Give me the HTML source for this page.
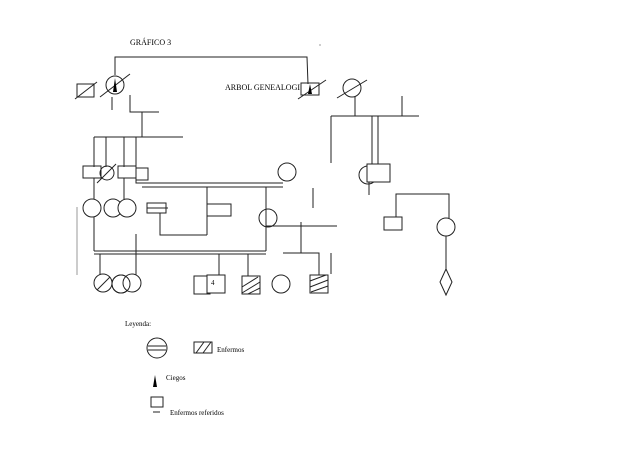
<!DOCTYPE html>
<html><head><style>
html,body{margin:0;padding:0;background:#fff;}
svg{display:block;}
text{font-family:"Liberation Serif",serif;fill:#000;}
</style></head><body>
<svg width="627" height="470" viewBox="0 0 627 470" xmlns="http://www.w3.org/2000/svg">
<g fill="none" stroke="#222" stroke-width="1">
<!-- top connection -->
<polyline points="115,75 115,57 307,57 308,84"/>
<!-- left couple -->
<rect x="77" y="84" width="17" height="13"/>
<line x1="75" y1="99" x2="97" y2="82"/>
<circle cx="115" cy="85" r="9" fill="#fff"/>
<line x1="100" y1="97" x2="130" y2="74"/>
<line x1="112" y1="97" x2="112" y2="110"/>
<polyline points="130,95 130,112 159,112"/>
<line x1="142" y1="112" x2="142" y2="137"/>
<line x1="94" y1="137" x2="183" y2="137"/>
<line x1="94" y1="137" x2="94" y2="167"/>
<line x1="106" y1="137" x2="106" y2="167"/>
<line x1="124" y1="137" x2="124" y2="167"/>
<line x1="136" y1="137" x2="136" y2="168"/>
<rect x="83" y="166" width="18" height="12"/>
<circle cx="107" cy="173" r="7"/>
<line x1="97" y1="183" x2="116" y2="164"/>
<rect x="118" y="166" width="18" height="12"/>
<rect x="136" y="168" width="12" height="12"/>
<polyline points="136,180 136,183 283,183"/>
<line x1="142" y1="187" x2="283" y2="187"/>
<circle cx="287" cy="172" r="9"/>
<line x1="94" y1="178" x2="94" y2="199"/>
<line x1="124" y1="178" x2="124" y2="199"/>
<circle cx="92" cy="208" r="9"/>
<circle cx="113" cy="208" r="9"/>
<circle cx="127" cy="208" r="9" fill="#fff"/>
<line x1="77" y1="207" x2="77" y2="275" stroke="#999"/>
<line x1="207" y1="187" x2="207" y2="235"/>
<polyline points="160,213 160,235 207,235"/>
<rect x="147" y="203" width="19" height="10"/>
<line x1="147" y1="208" x2="168" y2="208"/>
<rect x="207" y="204" width="24" height="12"/>
<line x1="266" y1="187" x2="266" y2="251"/>
<circle cx="268" cy="218" r="9"/>
<line x1="266" y1="226" x2="337" y2="226"/>
<line x1="313" y1="188" x2="313" y2="208"/>
<line x1="94" y1="217" x2="94" y2="251"/>
<line x1="136" y1="234" x2="136" y2="275"/>
<line x1="94" y1="251" x2="266" y2="251"/>
<line x1="94" y1="254" x2="266" y2="254"/>
<line x1="100" y1="254" x2="100" y2="275"/>
<line x1="219" y1="254" x2="219" y2="276"/>
<line x1="248" y1="254" x2="248" y2="276"/>
<line x1="301" y1="222" x2="301" y2="253"/>
<polyline points="283,253 319,253 319,275"/>
<line x1="331" y1="253" x2="331" y2="274"/>
<!-- bottom row -->
<circle cx="103" cy="283" r="9"/>
<line x1="97" y1="290" x2="110" y2="277"/>
<circle cx="121" cy="284" r="9" fill="#fff"/>
<circle cx="132" cy="283" r="9" fill="#fff"/>
<circle cx="121" cy="284" r="9"/>
<rect x="194" y="276" width="16" height="18"/>
<rect x="207" y="275" width="18" height="18" fill="#fff"/>
<rect x="242" y="276" width="18" height="18"/>
<line x1="242" y1="287" x2="258" y2="277"/>
<line x1="242" y1="293" x2="260" y2="282"/>
<line x1="248" y1="294" x2="260" y2="288"/>
<circle cx="281" cy="284" r="9"/>
<rect x="310" y="275" width="18" height="18"/>
<line x1="310" y1="281" x2="326" y2="275"/>
<line x1="310" y1="287" x2="328" y2="280"/>
<line x1="311" y1="292" x2="328" y2="286"/>
<!-- right side -->
<rect x="301" y="83" width="18" height="12"/>
<line x1="298" y1="99" x2="326" y2="80"/>
<circle cx="352" cy="88" r="9"/>
<line x1="337" y1="98" x2="367" y2="80"/>
<line x1="355" y1="97" x2="355" y2="116"/>
<line x1="331" y1="116" x2="419" y2="116"/>
<line x1="331" y1="116" x2="331" y2="163"/>
<line x1="402" y1="96" x2="402" y2="116"/>
<line x1="372" y1="116" x2="372" y2="164"/>
<line x1="378" y1="116" x2="378" y2="164"/>
<circle cx="368" cy="175" r="9"/>
<rect x="367" y="164" width="23" height="18" fill="#fff"/>
<line x1="369" y1="182" x2="369" y2="195"/>
<polyline points="396,217 396,194 449,194 449,218"/>
<rect x="384" y="217" width="18" height="13"/>
<circle cx="446" cy="227" r="9"/>
<line x1="446" y1="236" x2="446" y2="269"/>
<polygon points="446,269 452,282 446,295 440,282"/>
<!-- legend -->
<circle cx="157" cy="348" r="10"/>
<line x1="148" y1="346" x2="166" y2="346"/>
<line x1="148" y1="350" x2="166" y2="350"/>
<rect x="194" y="342" width="18" height="11"/>
<line x1="196" y1="353" x2="204" y2="342"/>
<line x1="203" y1="353" x2="211" y2="342"/>
<rect x="151" y="397" width="12" height="10"/>
<line x1="153" y1="412" x2="160" y2="412"/>
</g>
<polygon points="115,78 117,92 113,92" fill="#000"/>
<polygon points="310,84 312,94 308,94" fill="#000"/>
<polygon points="155,375 157,387 153,387" fill="#000"/>
<text x="130" y="45" font-size="8">GRÁFICO 3</text>
<text x="225" y="90" font-size="8">ARBOL GENEALOGI</text>
<text x="211" y="285" font-size="7">4</text>
<text x="125" y="326" font-size="7">Leyenda:</text>
<text x="217" y="352" font-size="7">Enfermos</text>
<text x="166" y="380" font-size="7">Ciegos</text>
<text x="170" y="415" font-size="7">Enfermos referidos</text>
<circle cx="320" cy="45" r="0.6" fill="#555"/>
</svg>
</body></html>
